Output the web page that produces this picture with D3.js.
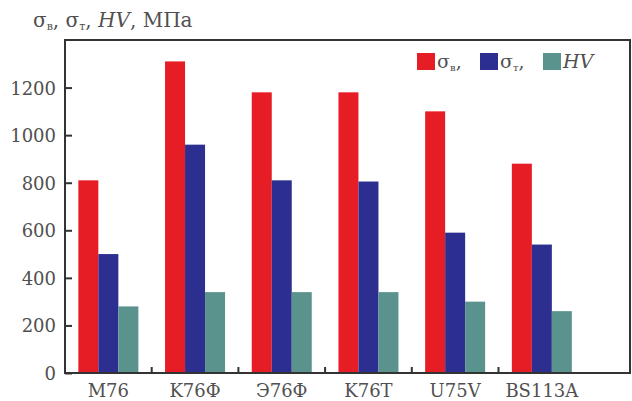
<!DOCTYPE html>
<html>
<head>
  <meta charset="utf-8" />
  <script src="https://cdnjs.cloudflare.com/ajax/libs/d3/7.8.5/d3.min.js"></script>
  <style>
    body{ margin: 0; background: white; }
    text{ font-family: "DejaVu Serif", "Liberation Serif", serif; fill: #505050; }
  </style>
</head>
<body>
  <script>
    // - - - - - DATA - - - - - //
    var steels = ["M76", "K76Ф", "Э76Ф", "K76T", "U75V", "BS113A"];
    var sigmaB = [810, 1310, 1180, 1180, 1100, 880];
    var sigmaT = [500, 960, 810, 805, 590, 540];
    var hv = [280, 340, 340, 340, 300, 260];
    var yTicks = [0, 200, 400, 600, 800, 1000, 1200];
    var seriesKeys = ["b", "t", "hv"];
    var seriesColors = ["#e71d25", "#2c2f90", "#5a938d"];

    // - - - - - CANVAS - - - - - //
    var w = 632, h = 401;
    var padL = 65, padR = 630, padT = 40, padB = 373;
    var bandW = 86.7;

    var svg = d3.select("body").append("svg")
      .attr("width", w).attr("height", h);

    var rows = steels.map(function(s, i){
      return {name: s, b: sigmaB[i], t: sigmaT[i], hv: hv[i]};
    });

    // - - - - - SCALES - - - - - //
    var x0 = d3.scaleBand()
      .domain(steels)
      .range([padL, padL + bandW * steels.length]);
    var x1 = d3.scaleBand()
      .domain(seriesKeys)
      .range([-30, 30]);
    var y = d3.scaleLinear()
      .domain([0, 1400])
      .range([padB, padT]);
    var color = d3.scaleOrdinal().domain(seriesKeys).range(seriesColors);

    // - - - - - BARS - - - - - //
    var grp = svg.selectAll("g.grp")
      .data(rows)
      .enter().append("g")
      .attr("class", "grp")
      .attr("transform", function(d){
        return "translate(" + (x0(d.name) + x0.bandwidth()/2) + ",0)";
      });
    grp.selectAll("rect")
      .data(function(d){
        return seriesKeys.map(function(k){ return {key: k, value: d[k]}; });
      })
      .enter().append("rect")
      .attr("x", function(d){ return x1(d.key); })
      .attr("width", x1.bandwidth())
      .attr("y", function(d){ return y(d.value); })
      .attr("height", function(d){ return padB - y(d.value); })
      .attr("fill", function(d){ return color(d.key); });

    // - - - - - FRAME & AXES - - - - - //
    svg.append("rect")
      .attr("x", padL).attr("y", padT)
      .attr("width", padR - padL).attr("height", padB - padT)
      .attr("fill", "none").attr("stroke", "#333").attr("stroke-width", 2);

    var yAxis = svg.append("g")
      .attr("transform", "translate(" + padL + ",0)")
      .call(d3.axisRight(y).tickValues(yTicks).tickSize(7).tickFormat(""));
    yAxis.select(".domain").remove();
    yAxis.selectAll("line").attr("stroke", "#333").attr("stroke-width", 2);

    svg.selectAll("text.ylab")
      .data(yTicks)
      .enter().append("text")
      .attr("class", "ylab")
      .attr("x", 56)
      .attr("y", function(d){ return y(d) + 7; })
      .attr("text-anchor", "end")
      .attr("font-size", 18)
      .text(function(d){ return d; });

    // separators between groups on the x axis
    var seps = steels.slice(1);
    svg.selectAll("line.sep")
      .data(seps)
      .enter().append("line")
      .attr("class", "sep")
      .attr("x1", function(d){ return x0(d); })
      .attr("x2", function(d){ return x0(d); })
      .attr("y1", padB).attr("y2", padB - 6)
      .attr("stroke", "#333").attr("stroke-width", 2);

    svg.selectAll("text.xlab")
      .data(steels)
      .enter().append("text")
      .attr("class", "xlab")
      .attr("x", function(d){ return x0(d) + x0.bandwidth()/2; })
      .attr("y", 397)
      .attr("text-anchor", "middle")
      .attr("font-size", 18)
      .text(function(d){ return d; });

    // - - - - - TITLE - - - - - //
    var title = svg.append("text")
      .attr("x", 33).attr("y", 27)
      .attr("font-size", 20);
    title.append("tspan").text("σ");
    title.append("tspan").attr("font-size", 11).attr("dy", 3).text("в");
    title.append("tspan").attr("dy", -3).text(", σ");
    title.append("tspan").attr("font-size", 11).attr("dy", 3).text("т");
    title.append("tspan").attr("dy", -3).text(", ");
    title.append("tspan").attr("font-style", "italic").text("HV");
    title.append("tspan").text(", МПа");

    // - - - - - LEGEND - - - - - //
    var legendItems = [
      {key: "b", x: 417, sub: "в", italic: false},
      {key: "t", x: 480, sub: "т", italic: false},
      {key: "hv", x: 543, sub: null, italic: true}
    ];
    var lg = svg.selectAll("g.leg")
      .data(legendItems)
      .enter().append("g")
      .attr("class", "leg")
      .attr("transform", function(d){ return "translate(" + d.x + ",53)"; });
    lg.append("rect")
      .attr("width", 18).attr("height", 17)
      .attr("fill", function(d){ return color(d.key); });
    var lt = lg.append("text")
      .attr("x", 20).attr("y", 15)
      .attr("font-size", 19);
    lt.each(function(d){
      var t = d3.select(this);
      if (d.italic){
        t.append("tspan").attr("font-style", "italic").text("HV");
      } else {
        t.append("tspan").text("σ");
        t.append("tspan").attr("font-size", 10).attr("dy", 3).text(d.sub);
        t.append("tspan").attr("dy", -3).text(",");
      }
    });
  </script>
</body>
</html>
